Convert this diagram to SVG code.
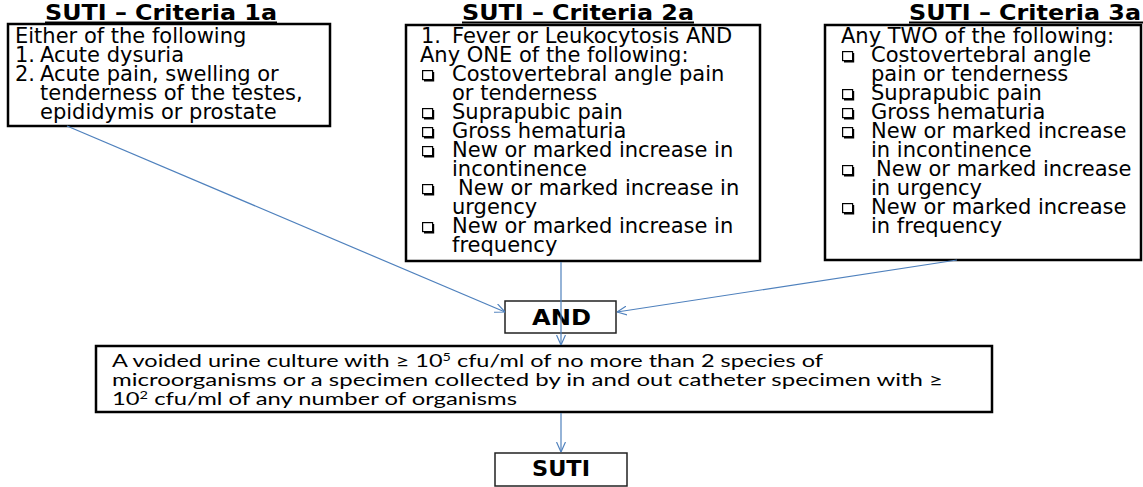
<svg xmlns="http://www.w3.org/2000/svg" width="1143" height="487" viewBox="0 0 1143 487">
<style>
.box{fill:#fff;stroke:#000;stroke-width:2.5}
.sbox{fill:#fff;stroke:#222;stroke-width:1.5}
.t{font-family:"DejaVu Sans",Verdana,sans-serif;font-size:21px;fill:#000}
.ttl{font-family:"DejaVu Sans",Verdana,sans-serif;font-size:21px;font-weight:bold;fill:#000}
.ul{stroke:#000;stroke-width:1.8}
.bt{font-family:Lato,"Open Sans",sans-serif;font-size:18px;fill:#000}
.c{stroke:#4F81BD;stroke-width:1.2;fill:none}
</style>
<defs>
<marker id="ah" viewBox="0 0 10 10" refX="10" refY="5" markerWidth="10" markerHeight="10" markerUnits="userSpaceOnUse" orient="auto">
<path d="M0 0.5 L10 5 L0 9.5" fill="none" stroke="#4F81BD" stroke-width="1.2"/>
</marker>
<g id="cb"><rect x="0.6" y="0.6" width="10" height="9" fill="none" stroke="#000" stroke-width="1.2"/><path d="M11.2 2 V10.6 H2" fill="none" stroke="#000" stroke-width="2"/></g>
</defs>

<g id="title1">
<text class="ttl" x="45" y="20" textLength="232" lengthAdjust="spacingAndGlyphs">SUTI – Criteria 1a</text>
<line class="ul" x1="45" y1="22.5" x2="277" y2="22.5"/>
</g>
<g id="title2">
<text class="ttl" x="462" y="20" textLength="232" lengthAdjust="spacingAndGlyphs">SUTI – Criteria 2a</text>
<line class="ul" x1="462" y1="22.5" x2="694" y2="22.5"/>
</g>
<g id="title3">
<text class="ttl" x="909" y="20" textLength="232" lengthAdjust="spacingAndGlyphs">SUTI – Criteria 3a</text>
<line class="ul" x1="909" y1="22.5" x2="1143" y2="22.5"/>
</g>

<g id="criteria1a">
<rect class="box" x="8" y="24" width="322" height="102"/>
<text class="t" x="15" y="43">Either of the following</text>
<text class="t" x="15" y="62">1.</text><text class="t" x="40" y="62">Acute dysuria</text>
<text class="t" x="15" y="81">2.</text><text class="t" x="40" y="81">Acute pain, swelling or</text>
<text class="t" x="40" y="100">tenderness of the testes,</text>
<text class="t" x="40" y="119">epididymis or prostate</text>
</g>

<g id="criteria2a">
<rect class="box" x="406" y="25" width="354" height="236"/>
<text class="t" x="421" y="43">1.</text><text class="t" x="452" y="43">Fever or Leukocytosis AND</text>
<text class="t" x="420" y="62">Any ONE of the following:</text>
<use href="#cb" x="422" y="70"/><text class="t" x="452" y="81">Costovertebral angle pain</text>
<text class="t" x="452" y="100">or tenderness</text>
<use href="#cb" x="422" y="108"/><text class="t" x="452" y="119">Suprapubic pain</text>
<use href="#cb" x="422" y="127"/><text class="t" x="452" y="138">Gross hematuria</text>
<use href="#cb" x="422" y="146"/><text class="t" x="452" y="157">New or marked increase in</text>
<text class="t" x="452" y="176">incontinence</text>
<use href="#cb" x="422" y="184"/><text class="t" x="458" y="195">New or marked increase in</text>
<text class="t" x="452" y="214">urgency</text>
<use href="#cb" x="422" y="222"/><text class="t" x="452" y="233">New or marked increase in</text>
<text class="t" x="452" y="252">frequency</text>
</g>

<g id="criteria3a">
<rect class="box" x="825" y="25" width="316" height="235"/>
<text class="t" x="841" y="43">Any TWO of the following:</text>
<use href="#cb" x="842" y="51"/><text class="t" x="871" y="62">Costovertebral angle</text>
<text class="t" x="871" y="81">pain or tenderness</text>
<use href="#cb" x="842" y="89"/><text class="t" x="871" y="100">Suprapubic pain</text>
<use href="#cb" x="842" y="108"/><text class="t" x="871" y="119">Gross hematuria</text>
<use href="#cb" x="842" y="127"/><text class="t" x="871" y="138">New or marked increase</text>
<text class="t" x="871" y="157">in incontinence</text>
<use href="#cb" x="842" y="165"/><text class="t" x="876" y="176">New or marked increase</text>
<text class="t" x="871" y="195">in urgency</text>
<use href="#cb" x="842" y="203"/><text class="t" x="871" y="214">New or marked increase</text>
<text class="t" x="871" y="233">in frequency</text>
</g>

<g id="and">
<rect class="sbox" x="505" y="301" width="111" height="32"/>
<text class="ttl" x="532" y="325" textLength="59" lengthAdjust="spacingAndGlyphs">AND</text>
</g>

<g id="culture">
<rect class="box" x="96" y="346" width="896" height="66"/>
<text class="bt" x="112" y="367" textLength="711" lengthAdjust="spacingAndGlyphs">A voided urine culture with ≥ 10<tspan dy="-6" font-size="11">5</tspan><tspan dy="6"> cfu/ml of no more than 2 species of</tspan></text>
<text class="bt" x="112" y="386" textLength="831" lengthAdjust="spacingAndGlyphs">microorganisms or a specimen collected by in and out catheter specimen with ≥</text>
<text class="bt" x="112" y="405" textLength="405" lengthAdjust="spacingAndGlyphs">10<tspan dy="-6" font-size="11">2</tspan><tspan dy="6"> cfu/ml of any number of organisms</tspan></text>
</g>

<g id="suti">
<rect class="sbox" x="495" y="453" width="132" height="33"/>
<text class="ttl" x="532" y="476" textLength="58" lengthAdjust="spacingAndGlyphs">SUTI</text>
</g>

<g id="connectors">
<line class="c" x1="67" y1="126" x2="505" y2="312" marker-end="url(#ah)"/>
<line class="c" x1="957" y1="260" x2="617" y2="312" marker-end="url(#ah)"/>
<line class="c" x1="561" y1="262" x2="561" y2="345" marker-end="url(#ah)"/>
<line class="c" x1="561" y1="413" x2="561" y2="452" marker-end="url(#ah)"/>
</g>
</svg>
